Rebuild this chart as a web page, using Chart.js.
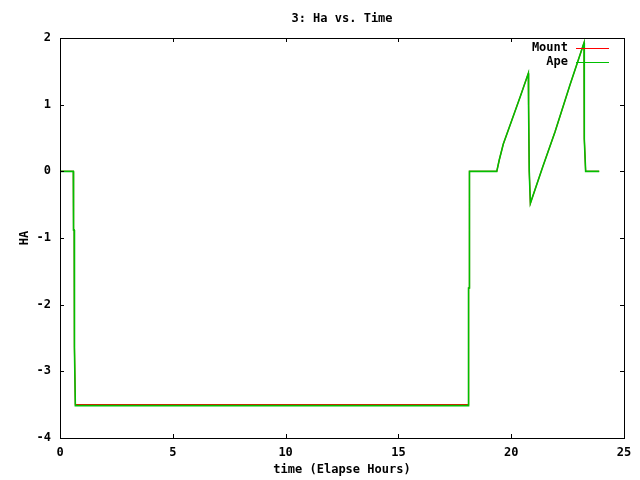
<!DOCTYPE html>
<html>
<head>
<meta charset="utf-8">
<script src="https://cdn.jsdelivr.net/npm/chart.js@4.4.0/dist/chart.umd.min.js"></script>
<style>
  html, body { margin: 0; padding: 0; background: #fff; }
  #wrap { width: 640px; height: 480px; }
</style>
</head>
<body>
<div id="wrap"><canvas id="chart-ha" width="640" height="480"></canvas></div>
<script>
// 3: Ha vs. Time (gnuplot-style)

const timeHours = [0, 0.59, 0.6, 0.63, 0.64, 0.68, 18.1, 18.11, 18.14, 18.15, 19.36, 19.47, 19.65, 20.02, 20.4, 20.76, 20.77, 20.8, 20.85, 21.4, 21.94, 22.6, 23.23, 23.24, 23.3, 23.9];
const apeHa     = [0, 0, -0.88, -0.88, -2.64, -3.515, -3.515, -1.75, -1.75, 0, 0, 0.17, 0.41, 0.76, 1.12, 1.47, 0.99, 0, -0.48, 0.07, 0.59, 1.29, 1.93, 0.49, 0, 0];
const mountHa   = [0, 0, -0.88, -0.88, -2.64, -3.5, -3.5, -1.75, -1.75, 0, 0, 0.17, 0.41, 0.76, 1.12, 1.47, 0.99, 0, -0.48, 0.07, 0.59, 1.29, 1.93, 0.49, 0, 0];

const xTicks = [0, 5, 10, 15, 20, 25];
const yTicks = [-4, -3, -2, -1, 0, 1, 2];

const FONT = 'bold 12px "DejaVu Sans Mono", monospace';

const toPoints = ys => timeHours.map((t, i) => ({ x: t, y: ys[i] }));

// frame, inward ticks, titles and legend like gnuplot
const gnuplotDecor = {
    id: 'gnuplotDecor',
    afterDraw(chart) {
        const { ctx, chartArea: a, scales } = chart;
        const tl = 4;
        ctx.save();
        ctx.strokeStyle = '#000';
        ctx.lineWidth = 1;
        ctx.strokeRect(a.left + 0.5, a.top + 0.5, a.right - a.left, a.bottom - a.top);
        ctx.beginPath();
        xTicks.forEach(v => {
            const px = Math.round(scales.x.getPixelForValue(v)) + 0.5;
            ctx.moveTo(px, a.bottom); ctx.lineTo(px, a.bottom - tl);
            ctx.moveTo(px, a.top); ctx.lineTo(px, a.top + tl);
        });
        yTicks.forEach(v => {
            const py = Math.round(scales.y.getPixelForValue(v)) + 0.5;
            ctx.moveTo(a.left, py); ctx.lineTo(a.left + tl, py);
            ctx.moveTo(a.right, py); ctx.lineTo(a.right - tl, py);
        });
        ctx.stroke();

        ctx.fillStyle = '#000';
        ctx.font = FONT;
        ctx.textAlign = 'center';
        ctx.textBaseline = 'middle';
        const cx = (a.left + a.right) / 2;
        ctx.fillText('3: Ha vs. Time', cx, 19);
        ctx.fillText('time (Elapse Hours)', cx, 470);
        ctx.save();
        ctx.translate(25, (a.top + a.bottom) / 2);
        ctx.rotate(-Math.PI / 2);
        ctx.fillText('HA', 0, 0);
        ctx.restore();

        // legend, top right
        ctx.textAlign = 'right';
        chart.data.datasets.forEach((ds, i) => {
            const y = a.top + 10 + i * 14;
            ctx.fillStyle = '#000';
            ctx.fillText(ds.label, a.right - 56, y);
            ctx.strokeStyle = ds.borderColor;
            ctx.lineWidth = 1;
            ctx.beginPath();
            ctx.moveTo(a.right - 48, y + 0.5);
            ctx.lineTo(a.right - 15, y + 0.5);
            ctx.stroke();
        });
        ctx.restore();
    },
};

new Chart(document.getElementById('chart-ha'), {
    type: 'line',
    data: {
        datasets: [
            {
                label: 'Mount',
                data: toPoints(mountHa),
                borderColor: '#ff0000',
                borderWidth: 1.2,
                pointRadius: 0,
                tension: 0,
                order: 2,
            },
            {
                label: 'Ape',
                data: toPoints(apeHa),
                borderColor: '#00c000',
                borderWidth: 1.6,
                pointRadius: 0,
                tension: 0,
                order: 1,
            },
        ],
    },
    plugins: [gnuplotDecor],
    options: {
        responsive: false,
        animation: false,
        events: [],
        layout: { padding: { top: 38, right: 16, left: 0, bottom: 0 } },
        plugins: {
            legend: { display: false },
            title: { display: false },
            tooltip: { enabled: false },
        },
        scales: {
            x: {
                type: 'linear',
                min: 0,
                max: 25,
                afterBuildTicks: s => { s.ticks = xTicks.map(v => ({ value: v })); },
                afterFit: s => { s.height = 42; },
                ticks: { color: '#000', font: { family: 'DejaVu Sans Mono', size: 12, weight: 'bold' }, padding: 8, maxRotation: 0 },
                grid: { display: false, drawTicks: false },
                border: { display: false },
            },
            y: {
                type: 'linear',
                min: -4,
                max: 2,
                afterBuildTicks: s => { s.ticks = yTicks.map(v => ({ value: v })); },
                afterFit: s => { s.width = 60; },
                ticks: { color: '#000', font: { family: 'DejaVu Sans Mono', size: 12, weight: 'bold' }, padding: 9 },
                grid: { display: false, drawTicks: false },
                border: { display: false },
            },
        },
    },
});
</script>
</body>
</html>
